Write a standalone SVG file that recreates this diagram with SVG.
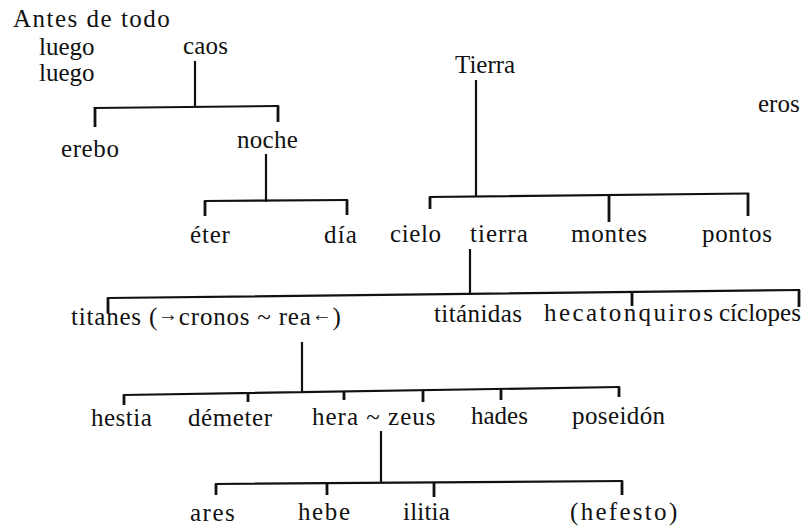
<svg xmlns="http://www.w3.org/2000/svg" width="805" height="528" viewBox="0 0 805 528">
<style>
text{font-family:'Liberation Serif','Tinos','DejaVu Serif',serif;font-size:25px;fill:#111;}
.ar{font-size:20px;}
.ln{stroke:#111;stroke-width:2.2;fill:none;stroke-linecap:square;}
.tk{stroke:#111;stroke-width:2.8;fill:none;}
</style>
<rect width="805" height="528" fill="#fff"/>
<g id="connectors">
<path class="ln" d="M195,62 V107 M95,108 L278,106 M266,155 V201 M205,201 L347,200 M476,81 V195.5 M430,197 L748,193.5 M470,250 V294 M108,298 L799,290 M302,343 V391 M124,395 L619,387 M381,432 V482.5 M216,484 L622,481"/>
<path class="tk" d="M95,107 V127 M278,106 V122 M205,201 V216 M347,200 V215 M430,197 V209 M609,195 V222 M748,193 V216 M108,298 V313 M632,291 V306 M799,290 V307 M124,395 V405 M248,393 V402 M344,391.5 V400 M423,390 V402 M501,389 V400 M619,387 V397 M216,484 V495 M327,483 V495 M434,482.5 V497 M622,481 V495"/>
</g>
<g id="antes"><text x="13" y="27" letter-spacing="1.5">Antes de todo</text></g>
<g id="luego1"><text x="39" y="55">luego</text></g>
<g id="luego2"><text x="39" y="81">luego</text></g>
<g id="caos"><text x="183" y="54" letter-spacing="0.2">caos</text></g>
<g id="erebo"><text x="61" y="157" letter-spacing="0.6">erebo</text></g>
<g id="noche"><text x="237" y="148" letter-spacing="0.3">noche</text></g>
<g id="eter"><text x="190" y="243" letter-spacing="0.8">éter</text></g>
<g id="dia"><text x="324" y="243" letter-spacing="1.2">día</text></g>
<g id="Tierra"><text x="455" y="73">Tierra</text></g>
<g id="eros"><text x="758" y="112">eros</text></g>
<g id="cielo"><text x="390" y="242" letter-spacing="0.6">cielo</text></g>
<g id="tierra"><text x="470" y="242" letter-spacing="1">tierra</text></g>
<g id="montes"><text x="571" y="242" letter-spacing="0.75">montes</text></g>
<g id="pontos"><text x="702" y="242" letter-spacing="0.66">pontos</text></g>
<g id="titanes"><text x="71" y="325" letter-spacing="0.8">titanes (<tspan class="ar" dy="-4">→</tspan><tspan dy="4">cronos ~ rea</tspan><tspan class="ar" dy="-4">←</tspan><tspan dy="4">)</tspan></text></g>
<g id="titanidas"><text x="434" y="322" letter-spacing="0.4">titánidas</text></g>
<g id="hecatonquiros"><text x="544" y="321" letter-spacing="2.4">hecatonquiros</text></g>
<g id="ciclopes"><text x="719" y="321">cíclopes</text></g>
<g id="hestia"><text x="91" y="426" letter-spacing="0.5">hestia</text></g>
<g id="demeter"><text x="188" y="426" letter-spacing="0.6">démeter</text></g>
<g id="hera-zeus"><text x="312" y="425" letter-spacing="1">hera ~ zeus</text></g>
<g id="hades"><text x="471" y="424">hades</text></g>
<g id="poseidon"><text x="572" y="424" letter-spacing="0.4">poseidón</text></g>
<g id="ares"><text x="190" y="521" letter-spacing="1.5">ares</text></g>
<g id="hebe"><text x="298" y="520" letter-spacing="1.6">hebe</text></g>
<g id="ilitia"><text x="403" y="520" letter-spacing="0.2">ilitia</text></g>
<g id="hefesto"><text x="570" y="520" letter-spacing="2.3">(hefesto)</text></g>
</svg>
